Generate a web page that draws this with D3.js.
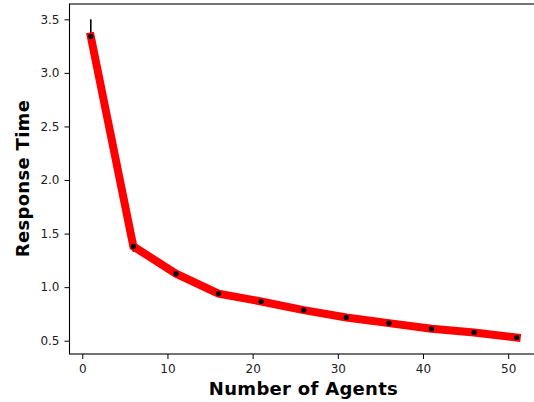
<!DOCTYPE html>
<html>
<head>
<meta charset="utf-8">
<script src="https://cdn.jsdelivr.net/npm/d3@7"></script>
<style>
  body { margin: 0; background: #fff; }
  svg { display: block; font-family: "DejaVu Sans", sans-serif; }
</style>
</head>
<body>
<div id="chart"></div>
<script>
// data
const agents = [1, 6, 11, 16, 21, 26, 31, 36, 41, 46, 51];
const responseTime = [3.34, 1.38, 1.126, 0.94, 0.866, 0.785, 0.717, 0.664, 0.611, 0.577, 0.53];
const responseErr = [0.16, 0.05, 0.02, 0.02, 0.02, 0.02, 0.015, 0.015, 0.015, 0.015, 0.015];
const xTicks = [0, 10, 20, 30, 40, 50];
const yTicks = [0.5, 1.0, 1.5, 2.0, 2.5, 3.0, 3.5];

//Setup Dimensions
const width = 534;
const height = 402;
const plot = { left: 69.5, right: 538, top: 4, bottom: 354 };

const svg = d3.select("#chart")
    .append("svg")
    .attr("width", width)
    .attr("height", height);

//Scales
const x = d3.scaleLinear().domain([-1.5, 53.5]).range([plot.left, plot.right]);
const y = d3.scaleLinear().domain([0.376, 3.643]).range([plot.bottom, plot.top]);

const points = agents.map((a, i) => ({ a, v: responseTime[i], e: responseErr[i] }));

//Error bars (behind the line)
svg.append("g")
    .selectAll("line")
    .data(points)
    .enter().append("line")
    .attr("x1", d => x(d.a))
    .attr("x2", d => x(d.a))
    .attr("y1", d => y(d.v + d.e))
    .attr("y2", d => y(d.v - d.e))
    .attr("stroke", "#000")
    .attr("stroke-width", 1.6);

//Red line
const line = d3.line()
    .x(d => x(d.a))
    .y(d => y(d.v));

svg.append("path")
    .datum(points)
    .attr("d", line)
    .attr("fill", "none")
    .attr("stroke", "#ff0000")
    .attr("stroke-width", 8)
    .attr("stroke-linecap", "square")
    .attr("stroke-linejoin", "miter");

//Markers
svg.append("g")
    .selectAll("circle")
    .data(points)
    .enter().append("circle")
    .attr("cx", d => x(d.a))
    .attr("cy", d => y(d.v))
    .attr("r", 2.6)
    .attr("fill", "#000");

//Axes
const xAxis = svg.append("g")
    .attr("transform", `translate(0, ${plot.bottom})`)
    .call(d3.axisBottom(x).tickValues(xTicks).tickFormat(d3.format("d")).tickSize(5).tickPadding(5));
const yAxis = svg.append("g")
    .attr("transform", `translate(${plot.left}, 0)`)
    .call(d3.axisLeft(y).tickValues(yTicks).tickFormat(d3.format(".1f")).tickSize(5).tickPadding(5));

[xAxis, yAxis].forEach(g => {
    g.select(".domain").remove();
    g.selectAll(".tick line").attr("stroke", "#000").attr("stroke-width", 1);
    g.selectAll(".tick text")
        .attr("fill", "#222")
        .style("font-family", "DejaVu Sans")
        .style("font-size", "12px");
});

//Spines (right one falls outside the picture)
svg.append("rect")
    .attr("x", plot.left)
    .attr("y", plot.top)
    .attr("width", plot.right - plot.left)
    .attr("height", plot.bottom - plot.top)
    .attr("fill", "none")
    .attr("stroke", "#000")
    .attr("stroke-width", 1.1);

//Axis labels
svg.append("text")
    .attr("x", 303.5)
    .attr("y", 395)
    .attr("text-anchor", "middle")
    .style("font-size", "18px")
    .style("font-weight", "bold")
    .style("letter-spacing", "0.3px")
    .text("Number of Agents");

svg.append("text")
    .attr("transform", `translate(28.5, 178.5) rotate(-90)`)
    .attr("text-anchor", "middle")
    .style("font-size", "18px")
    .style("font-weight", "bold")
    .style("letter-spacing", "0.3px")
    .text("Response Time");
</script>
</body>
</html>
